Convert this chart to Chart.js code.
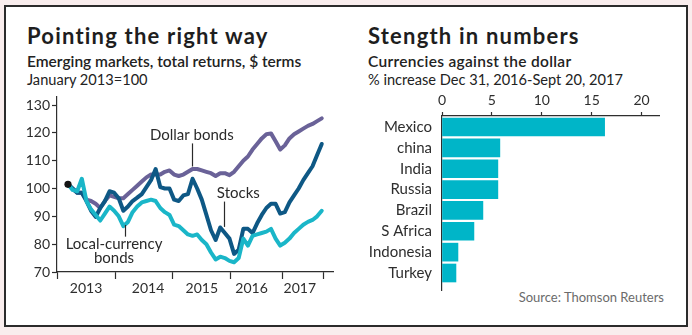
<!DOCTYPE html>
<html>
<head>
<meta charset="utf-8">
<script src="https://cdn.jsdelivr.net/npm/chart.js@4.4.1/dist/chart.umd.min.js"></script>
<style>
  html, body { margin: 0; padding: 0; width: 692px; height: 335px; overflow: hidden; background: #f9eded; font-family: Lato, "Open Sans", sans-serif; color: #1d1d1d; }
  #box { position: absolute; left: 4px; top: 5px; width: 684px; height: 322px; border: 2px solid #2b2b2b; background: #fff; box-sizing: border-box; }
  .t { position: absolute; white-space: nowrap; line-height: 1; }
  .title { font-size: 22px; font-weight: 700; color: #1e1e1e; letter-spacing: 1.2px; }
  .sub { font-size: 15.5px; font-weight: 600; color: #222; }
  .sub2 { font-size: 14.6px; font-weight: 400; color: #222; }
  .src { font-size: 13px; color: #6b6b6b; }
  canvas { position: absolute; }
</style>
</head>
<body>
<div id="box"></div>
<div class="t title" style="left:27px; top:24.5px;">Pointing the right way</div>
<div class="t sub" style="left:27px; top:53.5px;">Emerging markets, total returns, $ terms</div>
<div class="t sub2" style="left:27px; top:73px;">January 2013=100</div>

<div class="t title" style="left:368px; top:24.5px;">Stength in numbers</div>
<div class="t sub" style="left:368px; top:53.5px; letter-spacing:0.3px;">Currencies against the dollar</div>
<div class="t sub2" style="left:368px; top:73px;">% increase Dec 31, 2016-Sept 20, 2017</div>

<div class="t src" style="right:28px; top:291px;">Source: Thomson Reuters</div>

<canvas id="left" width="346" height="215" style="left:0px; top:90px;"></canvas>
<canvas id="right" width="344" height="215" style="left:346px; top:90px;"></canvas>

<script>
// ---------- Left chart data ----------
const months = [
  "2013-02","2013-03","2013-04","2013-05","2013-06","2013-07","2013-08","2013-09","2013-10","2013-11","2013-12",
  "2014-01","2014-02","2014-03","2014-04","2014-05","2014-06","2014-07","2014-08","2014-09","2014-10","2014-11","2014-12",
  "2015-01","2015-02","2015-03","2015-04","2015-05","2015-06","2015-07","2015-08","2015-09","2015-10","2015-11","2015-12",
  "2016-01","2016-02","2016-03","2016-04","2016-05","2016-06","2016-07","2016-08","2016-09","2016-10","2016-11","2016-12",
  "2017-01","2017-02","2017-03","2017-04","2017-05","2017-06","2017-07","2017-08","2017-09"
];
const dollarBonds = [101.5,100,98.5,98.5,96,95.5,94.5,93,95.5,97.5,
  97,96.5,96.5,98,99.5,101,102.5,104,105,105,
  105,106,106.5,105,104.5,105,106,107,107,106.5,
  106,105.5,104.5,105.5,105.5,104.8,106,108,110,111.5,
  114,116,118,119.5,119.8,117,114,115.5,118,119.5,
  120.5,121.5,122.5,123.2,124.2,125.2];
const stocks = [101.5,100,98.5,98.5,95.5,92,89.8,93,95.5,99,
  98.5,96.5,92,93.5,95.5,96.7,98,100.5,103,107,
  100.5,100,100,96,95.5,97.5,98,103.5,100,96,
  90.5,85,81.5,86,84,82,76.5,78,85.5,85.5,
  84,87.5,90.5,93,94.5,94.5,91,91.5,95,97.5,
  100,103,105.5,108,112,116];
const localBonds = [101.5,99.5,99,103.5,95.5,92.5,90.5,88.5,91,93.5,
  92,90,86.5,88,91.5,93.5,95,95.5,96,95.5,
  93,91.5,90.5,87,86.5,85,83.5,83,83.5,81.5,
  80,77,74.5,75.5,75,74,73.5,75,82,79.5,
  83,83.5,84,84.5,85.5,82,79.5,80.5,82,84,
  85.5,87,88,88.7,90,92];
const yTicks = [70, 80, 90, 100, 110, 120, 130];
const yearLabels = ["2013", "2014", "2015", "2016", "2017"];
const yearLabelPos = [2013.41, 2014.53, 2015.5, 2016.4, 2017.27];
const yearBoundaries = [2012.885, 2013.95, 2014.98, 2016.01, 2016.95, 2017.69];

// ---------- Right chart data ----------
const countries = ["Mexico", "china", "India", "Russia", "Brazil", "S Africa", "Indonesia", "Turkey"];
const pctIncrease = [16.3, 5.8, 5.6, 5.6, 4.1, 3.2, 1.6, 1.4];
const xTicks = [0, 5, 10, 15, 20];

// ---------- helpers ----------
const toX = m => { const [y, mo] = m.split("-").map(Number); return y + (mo - 1) / 12; };
const pts = arr => arr.map((v, i) => ({ x: toX(months[i]), y: v }));
const FONT = "Lato, 'Open Sans', sans-serif";
const INK = "#2e2e2e";
const noPad = s => { s.paddingTop = 0; s.paddingBottom = 0; s.paddingLeft = 0; s.paddingRight = 0; };

const annotations = [
  { lines: ["Dollar bonds"], x: 2015.32, y: 117.6, lead: { x: 2015.32, y1: 116.2, y2: 107.9 } },
  { lines: ["Stocks"], x: 2016.16, y: 96.6, lead: { x: 2015.90, y1: 95.3, y2: 86.2 } },
  { lines: ["Local-currency", "bonds"], x: 2013.915, y: 78.3, lead: { x: 2014.113, y1: 86.9, y2: 82.7 } }
];

const annotationPlugin = {
  id: "labels",
  afterDatasetsDraw(chart) {
    const { ctx, scales: { x, y } } = chart;
    ctx.save();
    ctx.font = "15px " + FONT;
    ctx.fillStyle = "#2a2a2a";
    ctx.strokeStyle = "#2a2a2a";
    ctx.lineWidth = 1.2;
    ctx.textAlign = "center";
    ctx.textBaseline = "alphabetic";
    annotations.forEach(a => {
      const px = x.getPixelForValue(a.x);
      const py = y.getPixelForValue(a.y);
      a.lines.forEach((t, i) => ctx.fillText(t, px, py + i * 14.5));
      const lx = Math.round(x.getPixelForValue(a.lead.x)) + 0.5;
      ctx.beginPath();
      ctx.moveTo(lx, y.getPixelForValue(a.lead.y1));
      ctx.lineTo(lx, y.getPixelForValue(a.lead.y2));
      ctx.stroke();
    });
    ctx.restore();
  }
};

const lineDs = (label, data, color) => ({
  label, data: pts(data), borderColor: color, borderWidth: 4, pointRadius: 0,
  tension: 0, borderJoinStyle: "round", borderCapStyle: "round", fill: false
});

new Chart(document.getElementById("left"), {
  type: "line",
  data: {
    datasets: [
      { label: "start", data: [{ x: toX(months[0]), y: stocks[0] }], showLine: false,
        pointRadius: 3.6, pointBackgroundColor: "#141414", pointBorderWidth: 0 },
      lineDs("Local-currency bonds", localBonds, "#1ab6c8"),
      lineDs("Stocks", stocks, "#0e5885"),
      lineDs("Dollar bonds", dollarBonds, "#6a6298")
    ]
  },
  options: {
    responsive: false, animation: false, events: [],
    layout: { padding: { top: 6.65, right: 13, bottom: 0, left: 0 } },
    plugins: { legend: { display: false }, tooltip: { enabled: false } },
    scales: {
      x: {
        type: "linear", min: 2012.885, max: 2017.87, offset: false,
        afterBuildTicks: s => {
          s.ticks = yearBoundaries.concat(yearLabelPos).sort((a, b) => a - b).map(v => ({ value: v }));
        },
        afterFit: s => { s.height = 33; noPad(s); },
        ticks: {
          autoSkip: false, maxRotation: 0, minRotation: 0, padding: 1, color: INK,
          font: { family: FONT, size: 14 },
          callback: v => { const i = yearLabelPos.indexOf(v); return i >= 0 ? yearLabels[i] : ""; }
        },
        grid: {
          drawOnChartArea: false, tickLength: 7, tickWidth: 1.2,
          tickColor: c => (c.tick && yearBoundaries.includes(c.tick.value)) ? INK : "rgba(0,0,0,0)"
        },
        border: { color: INK, width: 1.2 }
      },
      y: {
        min: 70, max: 133, offset: false,
        afterBuildTicks: s => { s.ticks = yTicks.map(v => ({ value: v })); },
        afterFit: s => { s.width = 57; noPad(s); },
        ticks: { color: INK, padding: 2, font: { family: FONT, size: 14 } },
        grid: { drawOnChartArea: false, tickLength: 5, tickWidth: 1.2, tickColor: INK },
        border: { color: INK, width: 1.2 }
      }
    }
  },
  plugins: [annotationPlugin]
});

new Chart(document.getElementById("right"), {
  type: "bar",
  data: {
    datasets: [{
      label: "% increase",
      data: countries.map((c, i) => ({ x: pctIncrease[i], y: i })),
      backgroundColor: "#00b5c8", borderWidth: 0, barThickness: 18
    }]
  },
  options: {
    indexAxis: "y", responsive: false, animation: false, events: [],
    layout: { padding: { top: 0, right: 31, bottom: 15, left: 0 } },
    plugins: { legend: { display: false }, tooltip: { enabled: false } },
    scales: {
      x: {
        type: "linear", position: "top", min: 0, max: 21.75, offset: false,
        afterBuildTicks: s => { s.ticks = xTicks.map(v => ({ value: v })); },
        afterFit: s => { s.height = 26; noPad(s); },
        ticks: { color: INK, padding: 3, font: { family: FONT, size: 14 } },
        grid: { drawOnChartArea: false, tickLength: 4, tickWidth: 1.2, tickColor: INK },
        border: { color: INK, width: 1.2 }
      },
      y: {
        type: "linear", reverse: true, min: -0.527, max: 7.815, offset: false,
        afterBuildTicks: s => { s.ticks = countries.map((c, i) => ({ value: i })); },
        afterFit: s => { s.width = 96; noPad(s); },
        ticks: { color: INK, padding: 10, font: { family: FONT, size: 15 }, callback: v => countries[v] },
        grid: { display: false, drawTicks: false },
        border: { color: INK, width: 1.2 }
      }
    }
  }
});
</script>
</body>
</html>
